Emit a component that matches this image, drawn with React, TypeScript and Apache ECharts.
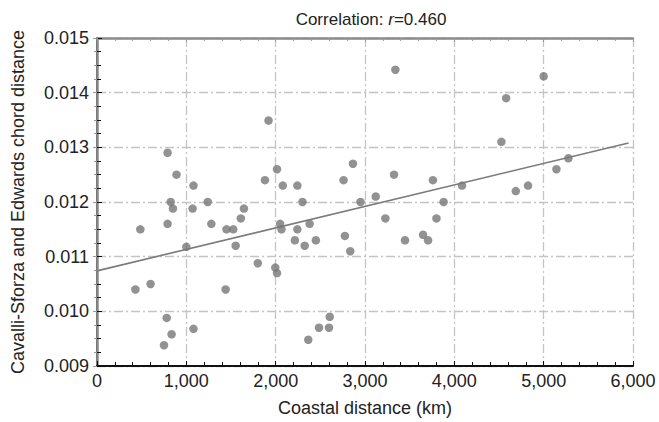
import React, { useEffect, useRef } from "react";
import * as echarts from "echarts";

const coastalKm: number[] = [
  1920, 790, 890, 1080, 1880, 825, 850, 1070, 1240, 1645, 1610, 1280, 790, 485, 1450, 1525,
  1000, 1552, 1800, 430, 600, 1440, 780, 835, 1080, 750, 3340, 2015, 2080, 2243, 2760, 2865,
  3325, 3760, 2300, 2950, 3120, 3880, 3228, 3800, 2050, 2065, 2243, 2380, 2215, 2325, 2450,
  2775, 2835, 3448, 3650, 3706, 1996, 2015, 2605, 2485, 2597, 2365, 5000, 4580, 4527, 5277,
  5143, 4086, 4688, 4825,
];
const chordDist: number[] = [
  0.01349, 0.0129, 0.0125, 0.0123, 0.0124, 0.012, 0.01188, 0.01188, 0.012, 0.01188, 0.0117,
  0.0116, 0.0116, 0.0115, 0.0115, 0.0115, 0.01118, 0.0112, 0.01088, 0.0104, 0.0105, 0.0104,
  0.00988, 0.00958, 0.00968, 0.00938, 0.01442, 0.0126, 0.0123, 0.0123, 0.0124, 0.0127, 0.0125,
  0.0124, 0.012, 0.012, 0.0121, 0.012, 0.0117, 0.0117, 0.0116, 0.0115, 0.0115, 0.0116, 0.0113,
  0.0112, 0.0113, 0.01138, 0.0111, 0.0113, 0.0114, 0.0113, 0.0108, 0.0107, 0.0099, 0.0097,
  0.0097, 0.00948, 0.0143, 0.0139, 0.0131, 0.0128, 0.0126, 0.0123, 0.0122, 0.0123,
];
const fitX: number[] = [0, 5950];
const fitY: number[] = [0.01074, 0.01308];

const TITLE = "Correlation: ";
const X_NAME = "Coastal distance (km)";
const Y_NAME = "Cavalli-Sforza and Edwards chord distance";

export default function App() {
  const ref = useRef<HTMLDivElement>(null);
  useEffect(() => {
    if (!ref.current) return;
    const chart = echarts.init(ref.current, undefined, { renderer: "svg" });
    const font = "'Liberation Sans', Arial, Helvetica, sans-serif";
    const FS = 18;
    const grid = { left: 97, top: 38, right: 26, bottom: 53 };
    const splitLine = {
      show: true,
      lineStyle: { color: "#c4c4c4", width: 1.3, type: [9, 3, 2, 3] as any },
    };
    const minorTick = { show: true, splitNumber: 5, length: 4, lineStyle: { color: "#111", width: 1 } };
    chart.setOption({
      animation: false,
      backgroundColor: "#fff",
      textStyle: { fontFamily: font },
      title: {
        text: TITLE + "{i|r}=0.460",
        left: 366,
        top: 6,
        textAlign: "center",
        textStyle: {
          fontFamily: font,
          fontSize: 17,
          fontWeight: "normal",
          color: "#222",
          rich: { i: { fontStyle: "italic", fontSize: 17, fontFamily: font, color: "#222" } },
        },
      },
      grid,
      xAxis: [
        {
          type: "value",
          min: 0,
          max: 6000,
          interval: 1000,
          position: "bottom",
          name: X_NAME,
          nameLocation: "middle",
          nameGap: 33,
          nameTextStyle: { fontSize: FS, color: "#222", fontFamily: font },
          axisLine: { show: true, lineStyle: { color: "#111", width: 2 } },
          axisTick: { show: true, inside: true, length: 5, lineStyle: { color: "#111" } },
          minorTick,
          axisLabel: {
            fontSize: FS,
            color: "#222",
            margin: 6,
            formatter: (v: number) => v.toLocaleString("en-US"),
          },
          splitLine,
        },
        {
          type: "value",
          min: 0,
          max: 6000,
          interval: 1000,
          position: "top",
          axisLine: { show: true, lineStyle: { color: "#8a8a8a", width: 2.5 } },
          axisTick: { show: true, inside: true, length: 4, lineStyle: { color: "#999" } },
          minorTick: { show: true, splitNumber: 5, length: 3, lineStyle: { color: "#999" } },
          axisLabel: { show: false },
          splitLine: { show: false },
        },
      ],
      yAxis: [
        {
          type: "value",
          min: 0.009,
          max: 0.015,
          interval: 0.001,
          position: "left",
          name: Y_NAME,
          nameLocation: "middle",
          nameGap: 70,
          nameTextStyle: { fontSize: FS, color: "#222", fontFamily: font },
          axisLine: { show: true, lineStyle: { color: "#111", width: 1.5 } },
          axisTick: { show: true, inside: true, length: 5, lineStyle: { color: "#111" } },
          minorTick: { show: true, splitNumber: 4, length: 4, lineStyle: { color: "#111" } },
          axisLabel: {
            fontSize: FS,
            color: "#222",
            margin: 8,
            formatter: (v: number) => v.toFixed(3),
          },
          splitLine,
        },
        {
          type: "value",
          min: 0.009,
          max: 0.015,
          interval: 0.001,
          position: "right",
          axisLine: { show: true, lineStyle: { color: "#8a8a8a", width: 2.5 } },
          axisTick: { show: true, inside: true, length: 4, lineStyle: { color: "#999" } },
          minorTick: { show: true, splitNumber: 4, length: 3, lineStyle: { color: "#999" } },
          axisLabel: { show: false },
          splitLine: { show: false },
        },
      ],
      series: [
        {
          type: "scatter",
          xAxisIndex: 0,
          yAxisIndex: 0,
          symbol: "circle",
          symbolSize: 8.5,
          itemStyle: { color: "#777777" },
          data: coastalKm.map((x, i) => [x, chordDist[i]]),
          z: 3,
        },
        {
          type: "line",
          xAxisIndex: 0,
          yAxisIndex: 0,
          showSymbol: false,
          symbol: "none",
          lineStyle: { color: "#7a7a7a", width: 1.6 },
          data: fitX.map((x, i) => [x, fitY[i]]),
          z: 4,
        },
      ],
    });
    return () => chart.dispose();
  }, []);
  return (
    <div
      ref={ref}
      style={{ position: "fixed", left: 0, top: 0, width: 659, height: 422, overflow: "hidden" }}
    />
  );
}
